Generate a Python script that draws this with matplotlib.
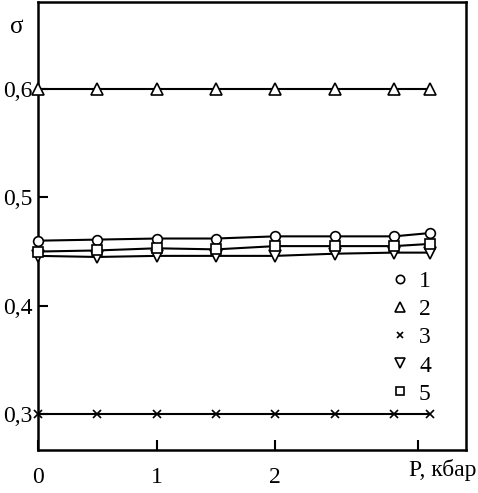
import matplotlib.pyplot as plt
from matplotlib.lines import Line2D

plt.rcParams['font.family'] = ['Liberation Serif', 'DejaVu Serif']

# pressure, kbar
p = [0, 0.5, 1.0, 1.5, 2.0, 2.5, 3.0, 3.3]

# sigma for each sample
s1 = [0.460, 0.461, 0.462, 0.462, 0.464, 0.464, 0.464, 0.467]
s2 = [0.600, 0.600, 0.600, 0.600, 0.600, 0.600, 0.600, 0.600]
s3 = [0.300, 0.300, 0.300, 0.300, 0.300, 0.300, 0.300, 0.300]
s4 = [0.446, 0.445, 0.446, 0.446, 0.446, 0.448, 0.449, 0.449]
s5 = [0.450, 0.451, 0.453, 0.452, 0.455, 0.455, 0.455, 0.457]

series = [s1, s2, s3, s4, s5]
markers = ['o', '^', 'x', 'v', 's']
names = ['1', '2', '3', '4', '5']
sizes = [7, 8, 6, 8, 7]

fig = plt.figure(figsize=(4.78, 4.93), dpi=100)
ax = fig.add_axes([0.0795, 0.087, 0.896, 0.909])

for s, m, ms in zip(series, markers, sizes):
    ax.plot(p, s, color='black', lw=1.5, marker=m, ms=ms,
            mfc='white', mec='black', mew=1.2, zorder=3, clip_on=False)

ax.set_xlim(0, 3.61)
ax.set_ylim(0.267, 0.68)

ax.set_xticks([0, 1, 2, 3.2])
ax.set_xticklabels(['0', '1', '2', ''])
ax.set_yticks([0.3, 0.4, 0.5, 0.6])
ax.set_yticklabels(['0,3', '0,4', '0,5', '0,6'])
ax.tick_params(direction='in', length=7, width=1.5, labelsize=17, pad=4)
ax.tick_params(axis='x', pad=12)
for sp in ax.spines.values():
    sp.set_linewidth(1.8)

fig.text(0.997, 0.047, 'P, кбар', fontsize=17, ha='right', va='center')
fig.text(0.035, 0.945, 'σ', fontsize=18, ha='center', va='center')

handles = [Line2D([], [], ls='none', marker=m, ms=ms - 1, mfc='white',
                  mec='black', mew=1.2) for m, ms in zip(markers, sizes)]
ax.legend(handles, names, loc='lower right', bbox_to_anchor=(0.945, 0.075),
          frameon=False, fontsize=17, handlelength=0.8, handletextpad=0.4,
          labelspacing=0.28, borderpad=0)

fig.savefig('out.png', dpi=100)
